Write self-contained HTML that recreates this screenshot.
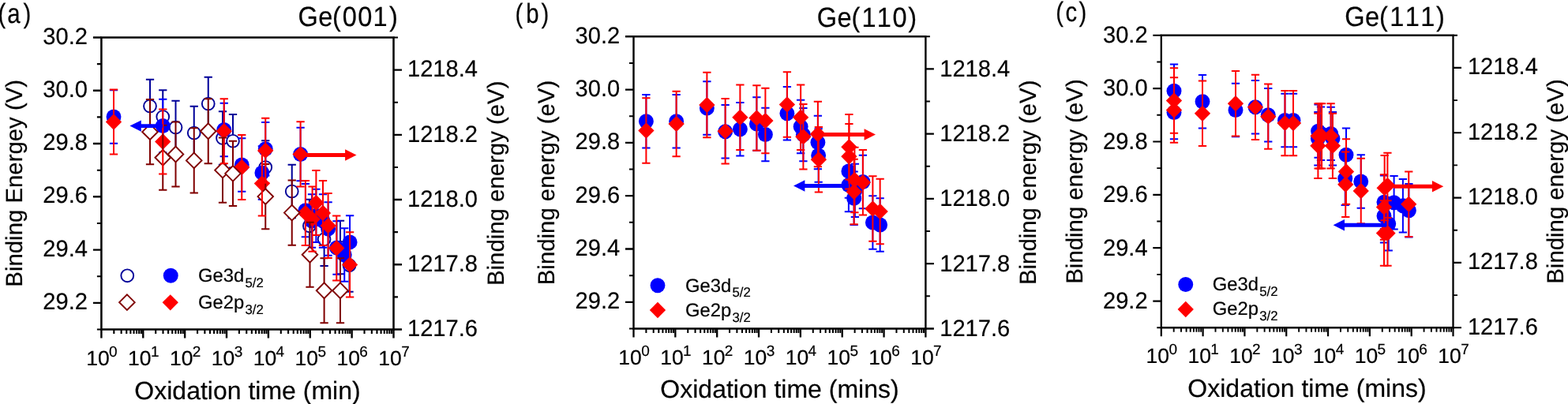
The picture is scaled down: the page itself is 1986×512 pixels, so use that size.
<!DOCTYPE html>
<html lang="en">
<head>
<meta charset="utf-8">
<title>Binding energy vs oxidation time: Ge(001), Ge(110), Ge(111)</title>
<style>
html,body{margin:0;padding:0;background:#fff;}
body{width:1986px;height:512px;overflow:hidden;}
svg{display:block;}
svg text{font-family:"Liberation Sans", sans-serif;fill:#000;stroke:#000;stroke-width:0.2px;text-rendering:geometricPrecision;}
</style>
</head>
<body>
<svg width="1986" height="512" viewBox="0 0 1986 512">
<rect width="1986" height="512" fill="#fff"/>
<g id="panel-a">
<path d="M190 100.86V168.14M184.85 100.86h10.3M184.85 168.14h10.3" stroke="#000099" stroke-width="2.0" fill="none"/>
<path d="M206.25 114.36V181.64M201.1 114.36h10.3M201.1 181.64h10.3" stroke="#000099" stroke-width="2.0" fill="none"/>
<path d="M222.5 127.86V195.14M217.35 127.86h10.3M217.35 195.14h10.3" stroke="#000099" stroke-width="2.0" fill="none"/>
<path d="M245.75 134.86V202.14M240.6 134.86h10.3M240.6 202.14h10.3" stroke="#000099" stroke-width="2.0" fill="none"/>
<path d="M263.75 97.86V165.14M258.6 97.86h10.3M258.6 165.14h10.3" stroke="#000099" stroke-width="2.0" fill="none"/>
<path d="M282 141.36V208.64M276.85 141.36h10.3M276.85 208.64h10.3" stroke="#000099" stroke-width="2.0" fill="none"/>
<path d="M295 145.11V212.39M289.85 145.11h10.3M289.85 212.39h10.3" stroke="#000099" stroke-width="2.0" fill="none"/>
<path d="M336.25 178.36V245.64M331.1 178.36h10.3M331.1 245.64h10.3" stroke="#000099" stroke-width="2.0" fill="none"/>
<path d="M369.75 208.86V276.14M364.6 208.86h10.3M364.6 276.14h10.3" stroke="#000099" stroke-width="2.0" fill="none"/>
<path d="M391.9 252.66V319.94M386.75 252.66h10.3M386.75 319.94h10.3" stroke="#000099" stroke-width="2.0" fill="none"/>
<path d="M410.6 269.66V336.94M405.45 269.66h10.3M405.45 336.94h10.3" stroke="#000099" stroke-width="2.0" fill="none"/>
<path d="M431 279.86V347.14M425.85 279.86h10.3M425.85 347.14h10.3" stroke="#000099" stroke-width="2.0" fill="none"/>
<path d="M442.5 302.56V369.84M437.35 302.56h10.3M437.35 369.84h10.3" stroke="#000099" stroke-width="2.0" fill="none"/>
<circle cx="190" cy="134.5" r="7.9" fill="#fff" stroke="#000099" stroke-width="1.9"/>
<circle cx="206.25" cy="148" r="7.9" fill="#fff" stroke="#000099" stroke-width="1.9"/>
<circle cx="222.5" cy="161.5" r="7.9" fill="#fff" stroke="#000099" stroke-width="1.9"/>
<circle cx="245.75" cy="168.5" r="7.9" fill="#fff" stroke="#000099" stroke-width="1.9"/>
<circle cx="263.75" cy="131.5" r="7.9" fill="#fff" stroke="#000099" stroke-width="1.9"/>
<circle cx="282" cy="175" r="7.9" fill="#fff" stroke="#000099" stroke-width="1.9"/>
<circle cx="295" cy="178.75" r="7.9" fill="#fff" stroke="#000099" stroke-width="1.9"/>
<circle cx="336.25" cy="212" r="7.9" fill="#fff" stroke="#000099" stroke-width="1.9"/>
<circle cx="369.75" cy="242.5" r="7.9" fill="#fff" stroke="#000099" stroke-width="1.9"/>
<circle cx="391.9" cy="286.3" r="7.9" fill="#fff" stroke="#000099" stroke-width="1.9"/>
<circle cx="410.6" cy="303.3" r="7.9" fill="#fff" stroke="#000099" stroke-width="1.9"/>
<circle cx="431" cy="313.5" r="7.9" fill="#fff" stroke="#000099" stroke-width="1.9"/>
<circle cx="442.5" cy="336.2" r="7.9" fill="#fff" stroke="#000099" stroke-width="1.9"/>
<path d="M144 114.36V181.64M138.85 114.36h10.3M138.85 181.64h10.3" stroke="#0000ff" stroke-width="2.0" fill="none"/>
<path d="M206.25 125.86V193.14M201.1 125.86h10.3M201.1 193.14h10.3" stroke="#0000ff" stroke-width="2.0" fill="none"/>
<path d="M283.75 130.86V198.14M278.6 130.86h10.3M278.6 198.14h10.3" stroke="#0000ff" stroke-width="2.0" fill="none"/>
<path d="M306.25 175.36V242.64M301.1 175.36h10.3M301.1 242.64h10.3" stroke="#0000ff" stroke-width="2.0" fill="none"/>
<path d="M336.25 155.11V222.39M331.1 155.11h10.3M331.1 222.39h10.3" stroke="#0000ff" stroke-width="2.0" fill="none"/>
<path d="M331.9 185.36V252.64M326.75 185.36h10.3M326.75 252.64h10.3" stroke="#0000ff" stroke-width="2.0" fill="none"/>
<path d="M380.6 161.86V229.14M375.45 161.86h10.3M375.45 229.14h10.3" stroke="#0000ff" stroke-width="2.0" fill="none"/>
<path d="M386.9 232.96V300.24M381.75 232.96h10.3M381.75 300.24h10.3" stroke="#0000ff" stroke-width="2.0" fill="none"/>
<path d="M400.4 239.66V306.94M395.25 239.66h10.3M395.25 306.94h10.3" stroke="#0000ff" stroke-width="2.0" fill="none"/>
<path d="M395 246.36V313.64M389.85 246.36h10.3M389.85 313.64h10.3" stroke="#0000ff" stroke-width="2.0" fill="none"/>
<path d="M409 246.36V313.64M403.85 246.36h10.3M403.85 313.64h10.3" stroke="#0000ff" stroke-width="2.0" fill="none"/>
<path d="M415.6 256.36V323.64M410.45 256.36h10.3M410.45 323.64h10.3" stroke="#0000ff" stroke-width="2.0" fill="none"/>
<path d="M426.5 280.36V347.64M421.35 280.36h10.3M421.35 347.64h10.3" stroke="#0000ff" stroke-width="2.0" fill="none"/>
<path d="M436.25 289.36V356.64M431.1 289.36h10.3M431.1 356.64h10.3" stroke="#0000ff" stroke-width="2.0" fill="none"/>
<path d="M443.1 273.26V340.54M437.95 273.26h10.3M437.95 340.54h10.3" stroke="#0000ff" stroke-width="2.0" fill="none"/>
<circle cx="144" cy="148" r="9.45" fill="#0000ff"/>
<circle cx="206.25" cy="159.5" r="9.45" fill="#0000ff"/>
<circle cx="283.75" cy="164.5" r="9.45" fill="#0000ff"/>
<circle cx="306.25" cy="209" r="9.45" fill="#0000ff"/>
<circle cx="336.25" cy="188.75" r="9.45" fill="#0000ff"/>
<circle cx="331.9" cy="219" r="9.45" fill="#0000ff"/>
<circle cx="380.6" cy="195.5" r="9.45" fill="#0000ff"/>
<circle cx="386.9" cy="266.6" r="9.45" fill="#0000ff"/>
<circle cx="400.4" cy="273.3" r="9.45" fill="#0000ff"/>
<circle cx="395" cy="280" r="9.45" fill="#0000ff"/>
<circle cx="409" cy="280" r="9.45" fill="#0000ff"/>
<circle cx="415.6" cy="290" r="9.45" fill="#0000ff"/>
<circle cx="426.5" cy="314" r="9.45" fill="#0000ff"/>
<circle cx="436.25" cy="323" r="9.45" fill="#0000ff"/>
<circle cx="443.1" cy="306.9" r="9.45" fill="#0000ff"/>
<path d="M133.85 154.5L144 144.35L154.15 154.5L144 164.65Z" fill="#ff0000"/>
<path d="M196.1 179.5L206.25 169.35L216.4 179.5L206.25 189.65Z" fill="#ff0000"/>
<path d="M273.6 166.25L283.75 156.1L293.9 166.25L283.75 176.4Z" fill="#ff0000"/>
<path d="M296.1 212L306.25 201.85L316.4 212L306.25 222.15Z" fill="#ff0000"/>
<path d="M326.1 190.75L336.25 180.6L346.4 190.75L336.25 200.9Z" fill="#ff0000"/>
<path d="M321.75 232.5L331.9 222.35L342.05 232.5L331.9 242.65Z" fill="#ff0000"/>
<path d="M370.45 195.4L380.6 185.25L390.75 195.4L380.6 205.55Z" fill="#ff0000"/>
<path d="M376.75 270L386.9 259.85L397.05 270L386.9 280.15Z" fill="#ff0000"/>
<path d="M390.25 257L400.4 246.85L410.55 257L400.4 267.15Z" fill="#ff0000"/>
<path d="M385.45 277.7L395.6 267.55L405.75 277.7L395.6 287.85Z" fill="#ff0000"/>
<path d="M398.85 270L409 259.85L419.15 270L409 280.15Z" fill="#ff0000"/>
<path d="M405.45 286L415.6 275.85L425.75 286L415.6 296.15Z" fill="#ff0000"/>
<path d="M416.1 314.5L426.25 304.35L436.4 314.5L426.25 324.65Z" fill="#ff0000"/>
<path d="M432.95 335.4L443.1 325.25L453.25 335.4L443.1 345.55Z" fill="#ff0000"/>
<path d="M190 126.09V208.31M184.85 126.09h10.3M184.85 208.31h10.3" stroke="#800000" stroke-width="2.0" fill="none"/>
<path d="M206.25 158.64V240.86M201.1 158.64h10.3M201.1 240.86h10.3" stroke="#800000" stroke-width="2.0" fill="none"/>
<path d="M222.5 154.39V236.61M217.35 154.39h10.3M217.35 236.61h10.3" stroke="#800000" stroke-width="2.0" fill="none"/>
<path d="M245.75 162.29V244.51M240.6 162.29h10.3M240.6 244.51h10.3" stroke="#800000" stroke-width="2.0" fill="none"/>
<path d="M263.75 125.14V207.36M258.6 125.14h10.3M258.6 207.36h10.3" stroke="#800000" stroke-width="2.0" fill="none"/>
<path d="M282 174.59V256.81M276.85 174.59h10.3M276.85 256.81h10.3" stroke="#800000" stroke-width="2.0" fill="none"/>
<path d="M295 178.69V260.91M289.85 178.69h10.3M289.85 260.91h10.3" stroke="#800000" stroke-width="2.0" fill="none"/>
<path d="M336.25 207.99V290.21M331.1 207.99h10.3M331.1 290.21h10.3" stroke="#800000" stroke-width="2.0" fill="none"/>
<path d="M369.75 228.49V310.71M364.6 228.49h10.3M364.6 310.71h10.3" stroke="#800000" stroke-width="2.0" fill="none"/>
<path d="M392.5 281.64V363.86M387.35 281.64h10.3M387.35 363.86h10.3" stroke="#800000" stroke-width="2.0" fill="none"/>
<path d="M410.6 327.14V409.36M405.45 327.14h10.3M405.45 409.36h10.3" stroke="#800000" stroke-width="2.0" fill="none"/>
<path d="M431 327.14V409.36M425.85 327.14h10.3M425.85 409.36h10.3" stroke="#800000" stroke-width="2.0" fill="none"/>
<path d="M180.2 167.2L190 157.4L199.8 167.2L190 177Z" fill="#fff" stroke="#800000" stroke-width="1.9"/>
<path d="M196.45 199.75L206.25 189.95L216.05 199.75L206.25 209.55Z" fill="#fff" stroke="#800000" stroke-width="1.9"/>
<path d="M212.7 195.5L222.5 185.7L232.3 195.5L222.5 205.3Z" fill="#fff" stroke="#800000" stroke-width="1.9"/>
<path d="M235.95 203.4L245.75 193.6L255.55 203.4L245.75 213.2Z" fill="#fff" stroke="#800000" stroke-width="1.9"/>
<path d="M253.95 166.25L263.75 156.45L273.55 166.25L263.75 176.05Z" fill="#fff" stroke="#800000" stroke-width="1.9"/>
<path d="M272.2 215.7L282 205.9L291.8 215.7L282 225.5Z" fill="#fff" stroke="#800000" stroke-width="1.9"/>
<path d="M285.2 219.8L295 210L304.8 219.8L295 229.6Z" fill="#fff" stroke="#800000" stroke-width="1.9"/>
<path d="M326.45 249.1L336.25 239.3L346.05 249.1L336.25 258.9Z" fill="#fff" stroke="#800000" stroke-width="1.9"/>
<path d="M359.95 269.6L369.75 259.8L379.55 269.6L369.75 279.4Z" fill="#fff" stroke="#800000" stroke-width="1.9"/>
<path d="M382.7 322.75L392.5 312.95L402.3 322.75L392.5 332.55Z" fill="#fff" stroke="#800000" stroke-width="1.9"/>
<path d="M400.8 368.25L410.6 358.45L420.4 368.25L410.6 378.05Z" fill="#fff" stroke="#800000" stroke-width="1.9"/>
<path d="M421.2 368.25L431 358.45L440.8 368.25L431 378.05Z" fill="#fff" stroke="#800000" stroke-width="1.9"/>
<path d="M144 113.39V144.85M144 164.15V195.61M138.85 113.39h10.3M138.85 195.61h10.3" stroke="#ff0000" stroke-width="2.0" fill="none"/>
<path d="M206.25 138.39V169.85M206.25 189.15V220.61M201.1 138.39h10.3M201.1 220.61h10.3" stroke="#ff0000" stroke-width="2.0" fill="none"/>
<path d="M283.75 125.14V156.6M283.75 175.9V207.36M278.6 125.14h10.3M278.6 207.36h10.3" stroke="#ff0000" stroke-width="2.0" fill="none"/>
<path d="M306.25 170.89V202.35M306.25 221.65V253.11M301.1 170.89h10.3M301.1 253.11h10.3" stroke="#ff0000" stroke-width="2.0" fill="none"/>
<path d="M336.25 149.64V181.1M336.25 200.4V231.86M331.1 149.64h10.3M331.1 231.86h10.3" stroke="#ff0000" stroke-width="2.0" fill="none"/>
<path d="M331.9 191.39V222.85M331.9 242.15V273.61M326.75 191.39h10.3M326.75 273.61h10.3" stroke="#ff0000" stroke-width="2.0" fill="none"/>
<path d="M380.6 154.29V185.75M380.6 205.05V236.51M375.45 154.29h10.3M375.45 236.51h10.3" stroke="#ff0000" stroke-width="2.0" fill="none"/>
<path d="M386.9 228.89V260.35M386.9 279.65V311.11M381.75 228.89h10.3M381.75 311.11h10.3" stroke="#ff0000" stroke-width="2.0" fill="none"/>
<path d="M400.4 215.89V247.35M400.4 266.65V298.11M395.25 215.89h10.3M395.25 298.11h10.3" stroke="#ff0000" stroke-width="2.0" fill="none"/>
<path d="M395.6 236.59V268.05M395.6 287.35V318.81M390.45 236.59h10.3M390.45 318.81h10.3" stroke="#ff0000" stroke-width="2.0" fill="none"/>
<path d="M409 228.89V260.35M409 279.65V311.11M403.85 228.89h10.3M403.85 311.11h10.3" stroke="#ff0000" stroke-width="2.0" fill="none"/>
<path d="M415.6 244.89V276.35M415.6 295.65V327.11M410.45 244.89h10.3M410.45 327.11h10.3" stroke="#ff0000" stroke-width="2.0" fill="none"/>
<path d="M426.25 273.39V304.85M426.25 324.15V355.61M421.1 273.39h10.3M421.1 355.61h10.3" stroke="#ff0000" stroke-width="2.0" fill="none"/>
<path d="M443.1 294.29V325.75M443.1 345.05V376.51M437.95 294.29h10.3M437.95 376.51h10.3" stroke="#ff0000" stroke-width="2.0" fill="none"/>
<path d="M206 157.15H178.8V152.4L164.4 159.6L178.8 166.8V162.05H206Z" fill="#0000ff"/>
<path d="M383 194.05H437.1V189.3L451.5 196.5L437.1 203.7V198.95H383Z" fill="#ff0000"/>
<circle cx="161.25" cy="349.3" r="7.9" fill="#fff" stroke="#000099" stroke-width="1.9"/>
<circle cx="216.25" cy="349.3" r="9.45" fill="#0000ff"/>
<path d="M151.1 383.2L160.9 373.4L170.7 383.2L160.9 393Z" fill="#fff" stroke="#800000" stroke-width="1.9"/>
<path d="M205.6 383.3L215.75 373.15L225.9 383.3L215.75 393.45Z" fill="#ff0000"/>
<text transform="translate(251 357.4) scale(1.0 1)" font-size="23.8">Ge3d<tspan dx="1.2" dy="6.8" font-size="16.8">5/2</tspan></text>
<text transform="translate(251 390.9) scale(1.0 1)" font-size="23.8">Ge2p<tspan dx="1.2" dy="6.8" font-size="16.8">3/2</tspan></text>
<path d="M128.4 47.5H498.5V417.5H128.4Z" fill="none" stroke="#000" stroke-width="2.5" stroke-linejoin="miter"/>
<path d="M128.4 383.86h-10.5M128.4 316.59h-10.5M128.4 249.32h-10.5M128.4 182.05h-10.5M128.4 114.77h-10.5M128.4 47.5h-10.5M498.5 417.5h10.5M498.5 335.28h10.5M498.5 253.06h10.5M498.5 170.83h10.5M498.5 88.61h10.5M128.4 417.5v11M181.27 417.5v11M234.14 417.5v11M287.01 417.5v11M339.89 417.5v11M392.76 417.5v11M445.63 417.5v11M498.5 417.5v11" stroke="#000" stroke-width="2.4" fill="none"/>
<path d="M128.4 417.5h-5.5M128.4 350.23h-5.5M128.4 282.95h-5.5M128.4 215.68h-5.5M128.4 148.41h-5.5M128.4 81.14h-5.5M498.5 376.39h5.5M498.5 294.17h5.5M498.5 211.94h5.5M498.5 129.72h5.5M498.5 47.5h5.5M144.32 417.5v5.5M153.63 417.5v5.5M160.23 417.5v5.5M165.36 417.5v5.5M169.54 417.5v5.5M173.08 417.5v5.5M176.15 417.5v5.5M178.85 417.5v5.5M197.19 417.5v5.5M206.5 417.5v5.5M213.1 417.5v5.5M218.23 417.5v5.5M222.41 417.5v5.5M225.95 417.5v5.5M229.02 417.5v5.5M231.72 417.5v5.5M250.06 417.5v5.5M259.37 417.5v5.5M265.97 417.5v5.5M271.1 417.5v5.5M275.28 417.5v5.5M278.82 417.5v5.5M281.89 417.5v5.5M284.6 417.5v5.5M302.93 417.5v5.5M312.24 417.5v5.5M318.85 417.5v5.5M323.97 417.5v5.5M328.16 417.5v5.5M331.7 417.5v5.5M334.76 417.5v5.5M337.47 417.5v5.5M355.8 417.5v5.5M365.11 417.5v5.5M371.72 417.5v5.5M376.84 417.5v5.5M381.03 417.5v5.5M384.57 417.5v5.5M387.63 417.5v5.5M390.34 417.5v5.5M408.67 417.5v5.5M417.98 417.5v5.5M424.59 417.5v5.5M429.71 417.5v5.5M433.9 417.5v5.5M437.44 417.5v5.5M440.5 417.5v5.5M443.21 417.5v5.5M461.54 417.5v5.5M470.85 417.5v5.5M477.46 417.5v5.5M482.58 417.5v5.5M486.77 417.5v5.5M490.31 417.5v5.5M493.38 417.5v5.5M496.08 417.5v5.5" stroke="#000" stroke-width="2.1" fill="none"/>
<text transform="translate(111 391.96) scale(0.98 1)" font-size="29.7" text-anchor="end">29.2</text>
<text transform="translate(111 324.69) scale(0.98 1)" font-size="29.7" text-anchor="end">29.4</text>
<text transform="translate(111 257.42) scale(0.98 1)" font-size="29.7" text-anchor="end">29.6</text>
<text transform="translate(111 190.15) scale(0.98 1)" font-size="29.7" text-anchor="end">29.8</text>
<text transform="translate(111 122.87) scale(0.98 1)" font-size="29.7" text-anchor="end">30.0</text>
<text transform="translate(111 55.6) scale(0.98 1)" font-size="29.7" text-anchor="end">30.2</text>
<text transform="translate(516 426.2) scale(0.98 1)" font-size="29.7">1217.6</text>
<text transform="translate(516 343.98) scale(0.98 1)" font-size="29.7">1217.8</text>
<text transform="translate(516 261.76) scale(0.98 1)" font-size="29.7">1218.0</text>
<text transform="translate(516 179.53) scale(0.98 1)" font-size="29.7">1218.2</text>
<text transform="translate(516 97.31) scale(0.98 1)" font-size="29.7">1218.4</text>
<text transform="translate(109.2 463.1) scale(1.0 1)" font-size="26.5">10<tspan dx="-0.6" dy="-10.8" font-size="19">0</tspan></text>
<text transform="translate(162.07 463.1) scale(1.0 1)" font-size="26.5">10<tspan dx="-0.6" dy="-10.8" font-size="19">1</tspan></text>
<text transform="translate(214.94 463.1) scale(1.0 1)" font-size="26.5">10<tspan dx="-0.6" dy="-10.8" font-size="19">2</tspan></text>
<text transform="translate(267.81 463.1) scale(1.0 1)" font-size="26.5">10<tspan dx="-0.6" dy="-10.8" font-size="19">3</tspan></text>
<text transform="translate(320.69 463.1) scale(1.0 1)" font-size="26.5">10<tspan dx="-0.6" dy="-10.8" font-size="19">4</tspan></text>
<text transform="translate(373.56 463.1) scale(1.0 1)" font-size="26.5">10<tspan dx="-0.6" dy="-10.8" font-size="19">5</tspan></text>
<text transform="translate(426.43 463.1) scale(1.0 1)" font-size="26.5">10<tspan dx="-0.6" dy="-10.8" font-size="19">6</tspan></text>
<text transform="translate(479.3 463.1) scale(1.0 1)" font-size="26.5">10<tspan dx="-0.6" dy="-10.8" font-size="19">7</tspan></text>
<text transform="translate(313.5 505.5) scale(1.0 1)" font-size="32" text-anchor="middle">Oxidation time (min)</text>
<text transform="translate(28.1 232.3) rotate(-90) scale(0.995 1)" font-size="29.5" text-anchor="middle">Binding Energey (V)</text>
<text transform="translate(638 232.3) rotate(-90) scale(0.995 1)" font-size="29.5" text-anchor="middle">Binding energy (eV)</text>
<text transform="translate(0 28.8) scale(0.84 1)" font-size="35" stroke-width="0.45" x="-3.12 11.01 35.04">(a)</text>
<text transform="translate(0 32.9) scale(0.93 1)" font-size="35" stroke-width="0.45" x="405.85 433.47 452.76 466.45 487.36 508.07 530.21">Ge(001)</text>
</g>
<g id="panel-b">
<path d="M818.4 120.09V187.41M813.25 120.09h10.3M813.25 187.41h10.3" stroke="#0000ff" stroke-width="2.0" fill="none"/>
<path d="M856.65 120.09V187.41M851.5 120.09h10.3M851.5 187.41h10.3" stroke="#0000ff" stroke-width="2.0" fill="none"/>
<path d="M895.4 103.34V170.66M890.25 103.34h10.3M890.25 170.66h10.3" stroke="#0000ff" stroke-width="2.0" fill="none"/>
<path d="M918.65 133.09V200.41M913.5 133.09h10.3M913.5 200.41h10.3" stroke="#0000ff" stroke-width="2.0" fill="none"/>
<path d="M937.4 130.09V197.41M932.25 130.09h10.3M932.25 197.41h10.3" stroke="#0000ff" stroke-width="2.0" fill="none"/>
<path d="M958.4 123.34V190.66M953.25 123.34h10.3M953.25 190.66h10.3" stroke="#0000ff" stroke-width="2.0" fill="none"/>
<path d="M969.4 136.84V204.16M964.25 136.84h10.3M964.25 204.16h10.3" stroke="#0000ff" stroke-width="2.0" fill="none"/>
<path d="M996.9 110.09V177.41M991.75 110.09h10.3M991.75 177.41h10.3" stroke="#0000ff" stroke-width="2.0" fill="none"/>
<path d="M1014.15 126.84V194.16M1009 126.84h10.3M1009 194.16h10.3" stroke="#0000ff" stroke-width="2.0" fill="none"/>
<path d="M1017.4 137.04V204.36M1012.25 137.04h10.3M1012.25 204.36h10.3" stroke="#0000ff" stroke-width="2.0" fill="none"/>
<path d="M1035.9 146.84V214.16M1030.75 146.84h10.3M1030.75 214.16h10.3" stroke="#0000ff" stroke-width="2.0" fill="none"/>
<path d="M1036.65 163.34V230.66M1031.5 163.34h10.3M1031.5 230.66h10.3" stroke="#0000ff" stroke-width="2.0" fill="none"/>
<path d="M1074.9 183.34V250.66M1069.75 183.34h10.3M1069.75 250.66h10.3" stroke="#0000ff" stroke-width="2.0" fill="none"/>
<path d="M1074.9 200.84V268.16M1069.75 200.84h10.3M1069.75 268.16h10.3" stroke="#0000ff" stroke-width="2.0" fill="none"/>
<path d="M1082.9 207.74V275.06M1077.75 207.74h10.3M1077.75 275.06h10.3" stroke="#0000ff" stroke-width="2.0" fill="none"/>
<path d="M1081.65 217.59V284.91M1076.5 217.59h10.3M1076.5 284.91h10.3" stroke="#0000ff" stroke-width="2.0" fill="none"/>
<path d="M1092.9 196.84V264.16M1087.75 196.84h10.3M1087.75 264.16h10.3" stroke="#0000ff" stroke-width="2.0" fill="none"/>
<path d="M1105.4 248.34V315.66M1100.25 248.34h10.3M1100.25 315.66h10.3" stroke="#0000ff" stroke-width="2.0" fill="none"/>
<path d="M1114.65 251.34V318.66M1109.5 251.34h10.3M1109.5 318.66h10.3" stroke="#0000ff" stroke-width="2.0" fill="none"/>
<circle cx="818.4" cy="153.75" r="9.45" fill="#0000ff"/>
<circle cx="856.65" cy="153.75" r="9.45" fill="#0000ff"/>
<circle cx="895.4" cy="137" r="9.45" fill="#0000ff"/>
<circle cx="918.65" cy="166.75" r="9.45" fill="#0000ff"/>
<circle cx="937.4" cy="163.75" r="9.45" fill="#0000ff"/>
<circle cx="958.4" cy="157" r="9.45" fill="#0000ff"/>
<circle cx="969.4" cy="170.5" r="9.45" fill="#0000ff"/>
<circle cx="996.9" cy="143.75" r="9.45" fill="#0000ff"/>
<circle cx="1014.15" cy="160.5" r="9.45" fill="#0000ff"/>
<circle cx="1017.4" cy="170.7" r="9.45" fill="#0000ff"/>
<circle cx="1035.9" cy="180.5" r="9.45" fill="#0000ff"/>
<circle cx="1036.65" cy="197" r="9.45" fill="#0000ff"/>
<circle cx="1074.9" cy="217" r="9.45" fill="#0000ff"/>
<circle cx="1074.9" cy="234.5" r="9.45" fill="#0000ff"/>
<circle cx="1082.9" cy="241.4" r="9.45" fill="#0000ff"/>
<circle cx="1081.65" cy="251.25" r="9.45" fill="#0000ff"/>
<circle cx="1092.9" cy="230.5" r="9.45" fill="#0000ff"/>
<circle cx="1105.4" cy="282" r="9.45" fill="#0000ff"/>
<circle cx="1114.65" cy="285" r="9.45" fill="#0000ff"/>
<path d="M808.25 165.5L818.4 155.35L828.55 165.5L818.4 175.65Z" fill="#ff0000"/>
<path d="M846.5 157L856.65 146.85L866.8 157L856.65 167.15Z" fill="#ff0000"/>
<path d="M885.25 133L895.4 122.85L905.55 133L895.4 143.15Z" fill="#ff0000"/>
<path d="M908.5 166.25L918.65 156.1L928.8 166.25L918.65 176.4Z" fill="#ff0000"/>
<path d="M927.25 148.75L937.4 138.6L947.55 148.75L937.4 158.9Z" fill="#ff0000"/>
<path d="M948.25 149.5L958.4 139.35L968.55 149.5L958.4 159.65Z" fill="#ff0000"/>
<path d="M959.25 153L969.4 142.85L979.55 153L969.4 163.15Z" fill="#ff0000"/>
<path d="M986.75 132.5L996.9 122.35L1007.05 132.5L996.9 142.65Z" fill="#ff0000"/>
<path d="M1004 148.75L1014.15 138.6L1024.3 148.75L1014.15 158.9Z" fill="#ff0000"/>
<path d="M1007.25 173.25L1017.4 163.1L1027.55 173.25L1017.4 183.4Z" fill="#ff0000"/>
<path d="M1025.75 170L1035.9 159.85L1046.05 170L1035.9 180.15Z" fill="#ff0000"/>
<path d="M1026.75 202.25L1036.9 192.1L1047.05 202.25L1036.9 212.4Z" fill="#ff0000"/>
<path d="M1065.25 186.25L1075.4 176.1L1085.55 186.25L1075.4 196.4Z" fill="#ff0000"/>
<path d="M1065.25 198.25L1075.4 188.1L1085.55 198.25L1075.4 208.4Z" fill="#ff0000"/>
<path d="M1072.25 228L1082.4 217.85L1092.55 228L1082.4 238.15Z" fill="#ff0000"/>
<path d="M1082.75 231.25L1092.9 221.1L1103.05 231.25L1092.9 241.4Z" fill="#ff0000"/>
<path d="M1071.5 243L1081.65 232.85L1091.8 243L1081.65 253.15Z" fill="#ff0000"/>
<path d="M1095.25 264.5L1105.4 254.35L1115.55 264.5L1105.4 274.65Z" fill="#ff0000"/>
<path d="M1104.5 268L1114.65 257.85L1124.8 268L1114.65 278.15Z" fill="#ff0000"/>
<path d="M818.4 124.36V155.85M818.4 175.15V206.64M813.25 124.36h10.3M813.25 206.64h10.3" stroke="#ff0000" stroke-width="2.0" fill="none"/>
<path d="M856.65 115.86V147.35M856.65 166.65V198.14M851.5 115.86h10.3M851.5 198.14h10.3" stroke="#ff0000" stroke-width="2.0" fill="none"/>
<path d="M895.4 91.86V123.35M895.4 142.65V174.14M890.25 91.86h10.3M890.25 174.14h10.3" stroke="#ff0000" stroke-width="2.0" fill="none"/>
<path d="M918.65 125.11V156.6M918.65 175.9V207.39M913.5 125.11h10.3M913.5 207.39h10.3" stroke="#ff0000" stroke-width="2.0" fill="none"/>
<path d="M937.4 107.61V139.1M937.4 158.4V189.89M932.25 107.61h10.3M932.25 189.89h10.3" stroke="#ff0000" stroke-width="2.0" fill="none"/>
<path d="M958.4 108.36V139.85M958.4 159.15V190.64M953.25 108.36h10.3M953.25 190.64h10.3" stroke="#ff0000" stroke-width="2.0" fill="none"/>
<path d="M969.4 111.86V143.35M969.4 162.65V194.14M964.25 111.86h10.3M964.25 194.14h10.3" stroke="#ff0000" stroke-width="2.0" fill="none"/>
<path d="M996.9 91.36V122.85M996.9 142.15V173.64M991.75 91.36h10.3M991.75 173.64h10.3" stroke="#ff0000" stroke-width="2.0" fill="none"/>
<path d="M1014.15 107.61V139.1M1014.15 158.4V189.89M1009 107.61h10.3M1009 189.89h10.3" stroke="#ff0000" stroke-width="2.0" fill="none"/>
<path d="M1017.4 132.11V163.6M1017.4 182.9V214.39M1012.25 132.11h10.3M1012.25 214.39h10.3" stroke="#ff0000" stroke-width="2.0" fill="none"/>
<path d="M1035.9 128.86V160.35M1035.9 179.65V211.14M1030.75 128.86h10.3M1030.75 211.14h10.3" stroke="#ff0000" stroke-width="2.0" fill="none"/>
<path d="M1036.9 161.11V192.6M1036.9 211.9V243.39M1031.75 161.11h10.3M1031.75 243.39h10.3" stroke="#ff0000" stroke-width="2.0" fill="none"/>
<path d="M1075.4 145.11V176.6M1075.4 195.9V227.39M1070.25 145.11h10.3M1070.25 227.39h10.3" stroke="#ff0000" stroke-width="2.0" fill="none"/>
<path d="M1075.4 157.11V188.6M1075.4 207.9V239.39M1070.25 157.11h10.3M1070.25 239.39h10.3" stroke="#ff0000" stroke-width="2.0" fill="none"/>
<path d="M1082.4 186.86V218.35M1082.4 237.65V269.14M1077.25 186.86h10.3M1077.25 269.14h10.3" stroke="#ff0000" stroke-width="2.0" fill="none"/>
<path d="M1092.9 190.11V221.6M1092.9 240.9V272.39M1087.75 190.11h10.3M1087.75 272.39h10.3" stroke="#ff0000" stroke-width="2.0" fill="none"/>
<path d="M1081.65 201.86V233.35M1081.65 252.65V284.14M1076.5 201.86h10.3M1076.5 284.14h10.3" stroke="#ff0000" stroke-width="2.0" fill="none"/>
<path d="M1105.4 223.36V254.85M1105.4 274.15V305.64M1100.25 223.36h10.3M1100.25 305.64h10.3" stroke="#ff0000" stroke-width="2.0" fill="none"/>
<path d="M1114.65 226.86V258.35M1114.65 277.65V309.14M1109.5 226.86h10.3M1109.5 309.14h10.3" stroke="#ff0000" stroke-width="2.0" fill="none"/>
<path d="M1040 168.05H1094.6V163.3L1109 170.5L1094.6 177.7V172.95H1040Z" fill="#ff0000"/>
<path d="M1075 233.05H1019.4V228.3L1005 235.5L1019.4 242.7V237.95H1075Z" fill="#0000ff"/>
<circle cx="833" cy="361.75" r="9.45" fill="#0000ff"/>
<path d="M822.85 393L833 382.85L843.15 393L833 403.15Z" fill="#ff0000"/>
<text transform="translate(868 369.5) scale(1.0 1)" font-size="23.8">Ge3d<tspan dx="1.2" dy="6.8" font-size="16.8">5/2</tspan></text>
<text transform="translate(868 401.1) scale(1.0 1)" font-size="23.8">Ge2p<tspan dx="1.2" dy="6.8" font-size="16.8">3/2</tspan></text>
<path d="M802.5 46.25H1172.4V416.5H802.5Z" fill="none" stroke="#000" stroke-width="2.4" stroke-linejoin="miter"/>
<path d="M802.5 382.84h-10.5M802.5 315.52h-10.5M802.5 248.2h-10.5M802.5 180.89h-10.5M802.5 113.57h-10.5M802.5 46.25h-10.5M1172.4 416.5h10.5M1172.4 334.22h10.5M1172.4 251.94h10.5M1172.4 169.67h10.5M1172.4 87.39h10.5M802.5 416.5v11M855.34 416.5v11M908.19 416.5v11M961.03 416.5v11M1013.87 416.5v11M1066.71 416.5v11M1119.56 416.5v11M1172.4 416.5v11" stroke="#000" stroke-width="2.3" fill="none"/>
<path d="M802.5 416.5h-5.5M802.5 349.18h-5.5M802.5 281.86h-5.5M802.5 214.55h-5.5M802.5 147.23h-5.5M802.5 79.91h-5.5M1172.4 375.36h5.5M1172.4 293.08h5.5M1172.4 210.81h5.5M1172.4 128.53h5.5M1172.4 46.25h5.5M818.41 416.5v5.5M827.71 416.5v5.5M834.31 416.5v5.5M839.44 416.5v5.5M843.62 416.5v5.5M847.16 416.5v5.5M850.22 416.5v5.5M852.92 416.5v5.5M871.25 416.5v5.5M880.56 416.5v5.5M887.16 416.5v5.5M892.28 416.5v5.5M896.46 416.5v5.5M900 416.5v5.5M903.06 416.5v5.5M905.77 416.5v5.5M924.09 416.5v5.5M933.4 416.5v5.5M940 416.5v5.5M945.12 416.5v5.5M949.31 416.5v5.5M952.84 416.5v5.5M955.91 416.5v5.5M958.61 416.5v5.5M976.94 416.5v5.5M986.24 416.5v5.5M992.84 416.5v5.5M997.96 416.5v5.5M1002.15 416.5v5.5M1005.69 416.5v5.5M1008.75 416.5v5.5M1011.45 416.5v5.5M1029.78 416.5v5.5M1039.08 416.5v5.5M1045.69 416.5v5.5M1050.81 416.5v5.5M1054.99 416.5v5.5M1058.53 416.5v5.5M1061.59 416.5v5.5M1064.3 416.5v5.5M1082.62 416.5v5.5M1091.93 416.5v5.5M1098.53 416.5v5.5M1103.65 416.5v5.5M1107.83 416.5v5.5M1111.37 416.5v5.5M1114.44 416.5v5.5M1117.14 416.5v5.5M1135.46 416.5v5.5M1144.77 416.5v5.5M1151.37 416.5v5.5M1156.49 416.5v5.5M1160.68 416.5v5.5M1164.21 416.5v5.5M1167.28 416.5v5.5M1169.98 416.5v5.5" stroke="#000" stroke-width="2" fill="none"/>
<text transform="translate(785.2 391.24) scale(0.98 1)" font-size="29.7" text-anchor="end">29.2</text>
<text transform="translate(785.2 323.92) scale(0.98 1)" font-size="29.7" text-anchor="end">29.4</text>
<text transform="translate(785.2 256.6) scale(0.98 1)" font-size="29.7" text-anchor="end">29.6</text>
<text transform="translate(785.2 189.29) scale(0.98 1)" font-size="29.7" text-anchor="end">29.8</text>
<text transform="translate(785.2 121.97) scale(0.98 1)" font-size="29.7" text-anchor="end">30.0</text>
<text transform="translate(785.2 54.65) scale(0.98 1)" font-size="29.7" text-anchor="end">30.2</text>
<text transform="translate(1190.2 425.9) scale(0.98 1)" font-size="29.7">1217.6</text>
<text transform="translate(1190.2 343.62) scale(0.98 1)" font-size="29.7">1217.8</text>
<text transform="translate(1190.2 261.34) scale(0.98 1)" font-size="29.7">1218.0</text>
<text transform="translate(1190.2 179.07) scale(0.98 1)" font-size="29.7">1218.2</text>
<text transform="translate(1190.2 96.79) scale(0.98 1)" font-size="29.7">1218.4</text>
<text transform="translate(783.3 461.5) scale(1.0 1)" font-size="26.5">10<tspan dx="-0.6" dy="-10.8" font-size="19">0</tspan></text>
<text transform="translate(836.14 461.5) scale(1.0 1)" font-size="26.5">10<tspan dx="-0.6" dy="-10.8" font-size="19">1</tspan></text>
<text transform="translate(888.99 461.5) scale(1.0 1)" font-size="26.5">10<tspan dx="-0.6" dy="-10.8" font-size="19">2</tspan></text>
<text transform="translate(941.83 461.5) scale(1.0 1)" font-size="26.5">10<tspan dx="-0.6" dy="-10.8" font-size="19">3</tspan></text>
<text transform="translate(994.67 461.5) scale(1.0 1)" font-size="26.5">10<tspan dx="-0.6" dy="-10.8" font-size="19">4</tspan></text>
<text transform="translate(1047.51 461.5) scale(1.0 1)" font-size="26.5">10<tspan dx="-0.6" dy="-10.8" font-size="19">5</tspan></text>
<text transform="translate(1100.36 461.5) scale(1.0 1)" font-size="26.5">10<tspan dx="-0.6" dy="-10.8" font-size="19">6</tspan></text>
<text transform="translate(1153.2 461.5) scale(1.0 1)" font-size="26.5">10<tspan dx="-0.6" dy="-10.8" font-size="19">7</tspan></text>
<text transform="translate(987.5 504.3) scale(1.0 1)" font-size="32" text-anchor="middle">Oxidation time (mins)</text>
<text transform="translate(702 231.5) rotate(-90) scale(0.995 1)" font-size="29.5" text-anchor="middle">Binding energy (eV)</text>
<text transform="translate(1312 231.3) rotate(-90) scale(0.995 1)" font-size="29.5" text-anchor="middle">Binding energy (eV)</text>
<text transform="translate(0 28.8) scale(0.84 1)" font-size="35" stroke-width="0.45" x="776.82 793.03 816.17">(b)</text>
<text transform="translate(0 33.8) scale(0.93 1)" font-size="35" stroke-width="0.45" x="1112.78 1140.25 1159.59 1173.55 1194.25 1215.59 1236.87">Ge(110)</text>
</g>
<g id="panel-c">
<path d="M1487 81.62V148.98M1481.85 81.62h10.3M1481.85 148.98h10.3" stroke="#0000ff" stroke-width="2.0" fill="none"/>
<path d="M1487 108.82V176.18M1481.85 108.82h10.3M1481.85 176.18h10.3" stroke="#0000ff" stroke-width="2.0" fill="none"/>
<path d="M1523 95.07V162.43M1517.85 95.07h10.3M1517.85 162.43h10.3" stroke="#0000ff" stroke-width="2.0" fill="none"/>
<path d="M1565 105.82V173.18M1559.85 105.82h10.3M1559.85 173.18h10.3" stroke="#0000ff" stroke-width="2.0" fill="none"/>
<path d="M1590 102.12V169.48M1584.85 102.12h10.3M1584.85 169.48h10.3" stroke="#0000ff" stroke-width="2.0" fill="none"/>
<path d="M1606.25 112.12V179.48M1601.1 112.12h10.3M1601.1 179.48h10.3" stroke="#0000ff" stroke-width="2.0" fill="none"/>
<path d="M1627.5 118.82V186.18M1622.35 118.82h10.3M1622.35 186.18h10.3" stroke="#0000ff" stroke-width="2.0" fill="none"/>
<path d="M1638 118.82V186.18M1632.85 118.82h10.3M1632.85 186.18h10.3" stroke="#0000ff" stroke-width="2.0" fill="none"/>
<path d="M1669.6 132.42V199.78M1664.45 132.42h10.3M1664.45 199.78h10.3" stroke="#0000ff" stroke-width="2.0" fill="none"/>
<path d="M1673 135.62V202.98M1667.85 135.62h10.3M1667.85 202.98h10.3" stroke="#0000ff" stroke-width="2.0" fill="none"/>
<path d="M1685.7 135.72V203.08M1680.55 135.72h10.3M1680.55 203.08h10.3" stroke="#0000ff" stroke-width="2.0" fill="none"/>
<path d="M1669.4 142.12V209.48M1664.25 142.12h10.3M1664.25 209.48h10.3" stroke="#0000ff" stroke-width="2.0" fill="none"/>
<path d="M1688 142.12V209.48M1682.85 142.12h10.3M1682.85 209.48h10.3" stroke="#0000ff" stroke-width="2.0" fill="none"/>
<path d="M1705 162.57V229.93M1699.85 162.57h10.3M1699.85 229.93h10.3" stroke="#0000ff" stroke-width="2.0" fill="none"/>
<path d="M1703.75 192.57V259.93M1698.6 192.57h10.3M1698.6 259.93h10.3" stroke="#0000ff" stroke-width="2.0" fill="none"/>
<path d="M1723.75 196.32V263.68M1718.6 196.32h10.3M1718.6 263.68h10.3" stroke="#0000ff" stroke-width="2.0" fill="none"/>
<path d="M1753 222.57V289.93M1747.85 222.57h10.3M1747.85 289.93h10.3" stroke="#0000ff" stroke-width="2.0" fill="none"/>
<path d="M1765.6 223.02V290.38M1760.45 223.02h10.3M1760.45 290.38h10.3" stroke="#0000ff" stroke-width="2.0" fill="none"/>
<path d="M1776.9 227.02V294.38M1771.75 227.02h10.3M1771.75 294.38h10.3" stroke="#0000ff" stroke-width="2.0" fill="none"/>
<path d="M1784.4 233.12V300.48M1779.25 233.12h10.3M1779.25 300.48h10.3" stroke="#0000ff" stroke-width="2.0" fill="none"/>
<path d="M1753 240.07V307.43M1747.85 240.07h10.3M1747.85 307.43h10.3" stroke="#0000ff" stroke-width="2.0" fill="none"/>
<path d="M1758.75 250.07V317.43M1753.6 250.07h10.3M1753.6 317.43h10.3" stroke="#0000ff" stroke-width="2.0" fill="none"/>
<circle cx="1487" cy="115.3" r="9.45" fill="#0000ff"/>
<circle cx="1487" cy="142.5" r="9.45" fill="#0000ff"/>
<circle cx="1523" cy="128.75" r="9.45" fill="#0000ff"/>
<circle cx="1565" cy="139.5" r="9.45" fill="#0000ff"/>
<circle cx="1590" cy="135.8" r="9.45" fill="#0000ff"/>
<circle cx="1606.25" cy="145.8" r="9.45" fill="#0000ff"/>
<circle cx="1627.5" cy="152.5" r="9.45" fill="#0000ff"/>
<circle cx="1638" cy="152.5" r="9.45" fill="#0000ff"/>
<circle cx="1669.6" cy="166.1" r="9.45" fill="#0000ff"/>
<circle cx="1673" cy="169.3" r="9.45" fill="#0000ff"/>
<circle cx="1685.7" cy="169.4" r="9.45" fill="#0000ff"/>
<circle cx="1669.4" cy="175.8" r="9.45" fill="#0000ff"/>
<circle cx="1688" cy="175.8" r="9.45" fill="#0000ff"/>
<circle cx="1705" cy="196.25" r="9.45" fill="#0000ff"/>
<circle cx="1703.75" cy="226.25" r="9.45" fill="#0000ff"/>
<circle cx="1723.75" cy="230" r="9.45" fill="#0000ff"/>
<circle cx="1753" cy="256.25" r="9.45" fill="#0000ff"/>
<circle cx="1765.6" cy="256.7" r="9.45" fill="#0000ff"/>
<circle cx="1776.9" cy="260.7" r="9.45" fill="#0000ff"/>
<circle cx="1784.4" cy="266.8" r="9.45" fill="#0000ff"/>
<circle cx="1753" cy="273.75" r="9.45" fill="#0000ff"/>
<circle cx="1758.75" cy="283.75" r="9.45" fill="#0000ff"/>
<path d="M1476.85 127.5L1487 117.35L1497.15 127.5L1487 137.65Z" fill="#ff0000"/>
<path d="M1476.85 139.5L1487 129.35L1497.15 139.5L1487 149.65Z" fill="#ff0000"/>
<path d="M1512.85 143.75L1523 133.6L1533.15 143.75L1523 153.9Z" fill="#ff0000"/>
<path d="M1554.85 131.25L1565 121.1L1575.15 131.25L1565 141.4Z" fill="#ff0000"/>
<path d="M1579.85 135.8L1590 125.65L1600.15 135.8L1590 145.95Z" fill="#ff0000"/>
<path d="M1596.1 147.7L1606.25 137.55L1616.4 147.7L1606.25 157.85Z" fill="#ff0000"/>
<path d="M1617.35 156.1L1627.5 145.95L1637.65 156.1L1627.5 166.25Z" fill="#ff0000"/>
<path d="M1627.85 156.1L1638 145.95L1648.15 156.1L1638 166.25Z" fill="#ff0000"/>
<path d="M1659.45 172.3L1669.6 162.15L1679.75 172.3L1669.6 182.45Z" fill="#ff0000"/>
<path d="M1661.45 172.3L1671.6 162.15L1681.75 172.3L1671.6 182.45Z" fill="#ff0000"/>
<path d="M1663.95 172.3L1674.1 162.15L1684.25 172.3L1674.1 182.45Z" fill="#ff0000"/>
<path d="M1675.45 172.3L1685.6 162.15L1695.75 172.3L1685.6 182.45Z" fill="#ff0000"/>
<path d="M1659.25 184.8L1669.4 174.65L1679.55 184.8L1669.4 194.95Z" fill="#ff0000"/>
<path d="M1677.75 184.8L1687.9 174.65L1698.05 184.8L1687.9 194.95Z" fill="#ff0000"/>
<path d="M1694.85 217.5L1705 207.35L1715.15 217.5L1705 227.65Z" fill="#ff0000"/>
<path d="M1694.1 233.75L1704.25 223.6L1714.4 233.75L1704.25 243.9Z" fill="#ff0000"/>
<path d="M1713.6 242L1723.75 231.85L1733.9 242L1723.75 252.15Z" fill="#ff0000"/>
<path d="M1743.5 238.2L1753.65 228.05L1763.8 238.2L1753.65 248.35Z" fill="#ff0000"/>
<path d="M1747.25 234.9L1757.4 224.75L1767.55 234.9L1757.4 245.05Z" fill="#ff0000"/>
<path d="M1742.85 262.5L1753 252.35L1763.15 262.5L1753 272.65Z" fill="#ff0000"/>
<path d="M1774.1 258.75L1784.25 248.6L1794.4 258.75L1784.25 268.9Z" fill="#ff0000"/>
<path d="M1742.85 295.5L1753 285.35L1763.15 295.5L1753 305.65Z" fill="#ff0000"/>
<path d="M1747.35 295.5L1757.5 285.35L1767.65 295.5L1757.5 305.65Z" fill="#ff0000"/>
<path d="M1487 86.33V117.85M1487 137.15V168.67M1481.85 86.33h10.3M1481.85 168.67h10.3" stroke="#ff0000" stroke-width="2.0" fill="none"/>
<path d="M1487 98.33V129.85M1487 149.15V180.67M1481.85 98.33h10.3M1481.85 180.67h10.3" stroke="#ff0000" stroke-width="2.0" fill="none"/>
<path d="M1523 102.58V134.1M1523 153.4V184.92M1517.85 102.58h10.3M1517.85 184.92h10.3" stroke="#ff0000" stroke-width="2.0" fill="none"/>
<path d="M1565 90.08V121.6M1565 140.9V172.42M1559.85 90.08h10.3M1559.85 172.42h10.3" stroke="#ff0000" stroke-width="2.0" fill="none"/>
<path d="M1590 94.63V126.15M1590 145.45V176.97M1584.85 94.63h10.3M1584.85 176.97h10.3" stroke="#ff0000" stroke-width="2.0" fill="none"/>
<path d="M1606.25 106.53V138.05M1606.25 157.35V188.87M1601.1 106.53h10.3M1601.1 188.87h10.3" stroke="#ff0000" stroke-width="2.0" fill="none"/>
<path d="M1627.5 114.93V146.45M1627.5 165.75V197.27M1622.35 114.93h10.3M1622.35 197.27h10.3" stroke="#ff0000" stroke-width="2.0" fill="none"/>
<path d="M1638 114.93V146.45M1638 165.75V197.27M1632.85 114.93h10.3M1632.85 197.27h10.3" stroke="#ff0000" stroke-width="2.0" fill="none"/>
<path d="M1669.6 131.13V162.65M1669.6 181.95V213.47M1664.45 131.13h10.3M1664.45 213.47h10.3" stroke="#ff0000" stroke-width="2.0" fill="none"/>
<path d="M1671.6 131.13V162.65M1671.6 181.95V213.47M1666.45 131.13h10.3M1666.45 213.47h10.3" stroke="#ff0000" stroke-width="2.0" fill="none"/>
<path d="M1674.1 131.13V162.65M1674.1 181.95V213.47M1668.95 131.13h10.3M1668.95 213.47h10.3" stroke="#ff0000" stroke-width="2.0" fill="none"/>
<path d="M1685.6 131.13V162.65M1685.6 181.95V213.47M1680.45 131.13h10.3M1680.45 213.47h10.3" stroke="#ff0000" stroke-width="2.0" fill="none"/>
<path d="M1669.4 143.63V175.15M1669.4 194.45V225.97M1664.25 143.63h10.3M1664.25 225.97h10.3" stroke="#ff0000" stroke-width="2.0" fill="none"/>
<path d="M1687.9 143.63V175.15M1687.9 194.45V225.97M1682.75 143.63h10.3M1682.75 225.97h10.3" stroke="#ff0000" stroke-width="2.0" fill="none"/>
<path d="M1705 176.33V207.85M1705 227.15V258.67M1699.85 176.33h10.3M1699.85 258.67h10.3" stroke="#ff0000" stroke-width="2.0" fill="none"/>
<path d="M1704.25 192.58V224.1M1704.25 243.4V274.92M1699.1 192.58h10.3M1699.1 274.92h10.3" stroke="#ff0000" stroke-width="2.0" fill="none"/>
<path d="M1723.75 200.83V232.35M1723.75 251.65V283.17M1718.6 200.83h10.3M1718.6 283.17h10.3" stroke="#ff0000" stroke-width="2.0" fill="none"/>
<path d="M1753.65 197.03V228.55M1753.65 247.85V279.37M1748.5 197.03h10.3M1748.5 279.37h10.3" stroke="#ff0000" stroke-width="2.0" fill="none"/>
<path d="M1757.4 193.73V225.25M1757.4 244.55V276.07M1752.25 193.73h10.3M1752.25 276.07h10.3" stroke="#ff0000" stroke-width="2.0" fill="none"/>
<path d="M1753 221.33V252.85M1753 272.15V303.67M1747.85 221.33h10.3M1747.85 303.67h10.3" stroke="#ff0000" stroke-width="2.0" fill="none"/>
<path d="M1784.25 217.58V249.1M1784.25 268.4V299.92M1779.1 217.58h10.3M1779.1 299.92h10.3" stroke="#ff0000" stroke-width="2.0" fill="none"/>
<path d="M1753 254.33V285.85M1753 305.15V336.67M1747.85 254.33h10.3M1747.85 336.67h10.3" stroke="#ff0000" stroke-width="2.0" fill="none"/>
<path d="M1757.5 254.33V285.85M1757.5 305.15V336.67M1752.35 254.33h10.3M1752.35 336.67h10.3" stroke="#ff0000" stroke-width="2.0" fill="none"/>
<path d="M1765 233.75H1813.9V229L1828.3 236.2L1813.9 243.4V238.65H1765Z" fill="#ff0000"/>
<path d="M1756 282.75H1703V278L1688.6 285.2L1703 292.4V287.65H1756Z" fill="#0000ff"/>
<circle cx="1501.75" cy="360.5" r="9.45" fill="#0000ff"/>
<path d="M1491.6 392L1501.75 381.85L1511.9 392L1501.75 402.15Z" fill="#ff0000"/>
<text transform="translate(1535.8 368.1) scale(1.0 1)" font-size="23.8">Ge3d<tspan dx="1.2" dy="6.8" font-size="16.8">5/2</tspan></text>
<text transform="translate(1535.8 399.4) scale(1.0 1)" font-size="23.8">Ge2p<tspan dx="1.2" dy="6.8" font-size="16.8">3/2</tspan></text>
<path d="M1470.8 44.75H1840.5V415.25H1470.8Z" fill="none" stroke="#000" stroke-width="2.3" stroke-linejoin="miter"/>
<path d="M1470.8 381.57h-10.5M1470.8 314.2h-10.5M1470.8 246.84h-10.5M1470.8 179.48h-10.5M1470.8 112.11h-10.5M1470.8 44.75h-10.5M1840.5 415.25h10.5M1840.5 332.92h10.5M1840.5 250.58h10.5M1840.5 168.25h10.5M1840.5 85.92h10.5M1470.8 415.25v11M1523.61 415.25v11M1576.43 415.25v11M1629.24 415.25v11M1682.06 415.25v11M1734.87 415.25v11M1787.69 415.25v11M1840.5 415.25v11" stroke="#000" stroke-width="2.2" fill="none"/>
<path d="M1470.8 415.25h-5.5M1470.8 347.89h-5.5M1470.8 280.52h-5.5M1470.8 213.16h-5.5M1470.8 145.8h-5.5M1470.8 78.43h-5.5M1840.5 374.08h5.5M1840.5 291.75h5.5M1840.5 209.42h5.5M1840.5 127.08h5.5M1840.5 44.75h5.5M1486.7 415.25v5.5M1496 415.25v5.5M1502.6 415.25v5.5M1507.72 415.25v5.5M1511.9 415.25v5.5M1515.43 415.25v5.5M1518.5 415.25v5.5M1521.2 415.25v5.5M1539.51 415.25v5.5M1548.81 415.25v5.5M1555.41 415.25v5.5M1560.53 415.25v5.5M1564.71 415.25v5.5M1568.25 415.25v5.5M1571.31 415.25v5.5M1574.01 415.25v5.5M1592.33 415.25v5.5M1601.63 415.25v5.5M1608.23 415.25v5.5M1613.34 415.25v5.5M1617.53 415.25v5.5M1621.06 415.25v5.5M1624.12 415.25v5.5M1626.83 415.25v5.5M1645.14 415.25v5.5M1654.44 415.25v5.5M1661.04 415.25v5.5M1666.16 415.25v5.5M1670.34 415.25v5.5M1673.88 415.25v5.5M1676.94 415.25v5.5M1679.64 415.25v5.5M1697.96 415.25v5.5M1707.26 415.25v5.5M1713.85 415.25v5.5M1718.97 415.25v5.5M1723.15 415.25v5.5M1726.69 415.25v5.5M1729.75 415.25v5.5M1732.45 415.25v5.5M1750.77 415.25v5.5M1760.07 415.25v5.5M1766.67 415.25v5.5M1771.79 415.25v5.5M1775.97 415.25v5.5M1779.5 415.25v5.5M1782.57 415.25v5.5M1785.27 415.25v5.5M1803.58 415.25v5.5M1812.88 415.25v5.5M1819.48 415.25v5.5M1824.6 415.25v5.5M1828.78 415.25v5.5M1832.32 415.25v5.5M1835.38 415.25v5.5M1838.08 415.25v5.5" stroke="#000" stroke-width="1.9" fill="none"/>
<text transform="translate(1453.6 390.87) scale(0.98 1)" font-size="29.7" text-anchor="end">29.2</text>
<text transform="translate(1453.6 323.5) scale(0.98 1)" font-size="29.7" text-anchor="end">29.4</text>
<text transform="translate(1453.6 256.14) scale(0.98 1)" font-size="29.7" text-anchor="end">29.6</text>
<text transform="translate(1453.6 188.78) scale(0.98 1)" font-size="29.7" text-anchor="end">29.8</text>
<text transform="translate(1453.6 121.41) scale(0.98 1)" font-size="29.7" text-anchor="end">30.0</text>
<text transform="translate(1453.6 54.05) scale(0.98 1)" font-size="29.7" text-anchor="end">30.2</text>
<text transform="translate(1858.9 423.65) scale(0.98 1)" font-size="29.7">1217.6</text>
<text transform="translate(1858.9 341.32) scale(0.98 1)" font-size="29.7">1217.8</text>
<text transform="translate(1858.9 258.98) scale(0.98 1)" font-size="29.7">1218.0</text>
<text transform="translate(1858.9 176.65) scale(0.98 1)" font-size="29.7">1218.2</text>
<text transform="translate(1858.9 94.32) scale(0.98 1)" font-size="29.7">1218.4</text>
<text transform="translate(1451.6 459.75) scale(1.0 1)" font-size="26.5">10<tspan dx="-0.6" dy="-10.8" font-size="19">0</tspan></text>
<text transform="translate(1504.41 459.75) scale(1.0 1)" font-size="26.5">10<tspan dx="-0.6" dy="-10.8" font-size="19">1</tspan></text>
<text transform="translate(1557.23 459.75) scale(1.0 1)" font-size="26.5">10<tspan dx="-0.6" dy="-10.8" font-size="19">2</tspan></text>
<text transform="translate(1610.04 459.75) scale(1.0 1)" font-size="26.5">10<tspan dx="-0.6" dy="-10.8" font-size="19">3</tspan></text>
<text transform="translate(1662.86 459.75) scale(1.0 1)" font-size="26.5">10<tspan dx="-0.6" dy="-10.8" font-size="19">4</tspan></text>
<text transform="translate(1715.67 459.75) scale(1.0 1)" font-size="26.5">10<tspan dx="-0.6" dy="-10.8" font-size="19">5</tspan></text>
<text transform="translate(1768.49 459.75) scale(1.0 1)" font-size="26.5">10<tspan dx="-0.6" dy="-10.8" font-size="19">6</tspan></text>
<text transform="translate(1821.3 459.75) scale(1.0 1)" font-size="26.5">10<tspan dx="-0.6" dy="-10.8" font-size="19">7</tspan></text>
<text transform="translate(1655.5 502.75) scale(1.0 1)" font-size="32" text-anchor="middle">Oxidation time (mins)</text>
<text transform="translate(1371 230) rotate(-90) scale(0.995 1)" font-size="29.5" text-anchor="middle">Binding energy (eV)</text>
<text transform="translate(1980 230) rotate(-90) scale(0.995 1)" font-size="29.5" text-anchor="middle">Binding energy (eV)</text>
<text transform="translate(0 27.3) scale(0.84 1)" font-size="35" stroke-width="0.45" x="1591.94 1606.44 1626.76">(c)</text>
<text transform="translate(0 32.9) scale(0.93 1)" font-size="35" stroke-width="0.45" x="1831.55 1859.23 1878.51 1892.69 1913.66 1934.79 1955.96">Ge(111)</text>
</g>
</svg>
</body>
</html>
